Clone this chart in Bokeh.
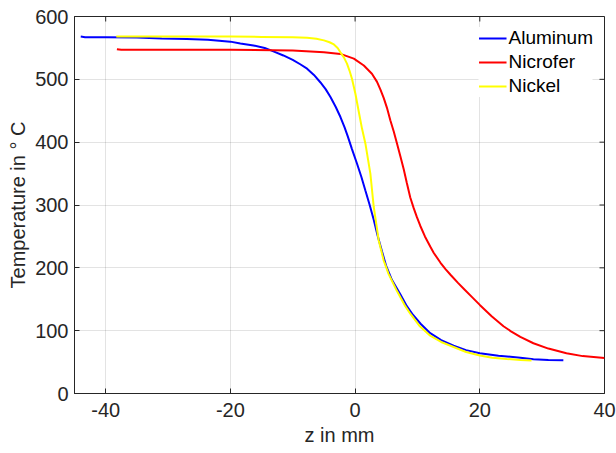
from bokeh.plotting import figure
from bokeh.models import Range1d, FixedTicker
from bokeh.embed import file_html
from bokeh.resources import INLINE

# ---- data ----
series_names = ["Aluminum", "Nicrofer", "Nickel"]
series_colors = ["#0000ff", "#ff0000", "#ffff00"]

z_aluminum = [-44.0, -43.3, -40, -35, -31, -27, -23.6, -20, -18.4, -16.3, -14.5, -13.0, -11.5,
              -10.0, -8.8, -7.7, -6.6, -5.55, -4.7, -3.95, -3.1, -2.35, -1.7, -1.2, -0.5, 0.3,
              1.0, 1.65, 2.34, 2.98, 3.6, 4.32, 4.95, 5.9, 7.25, 8.3, 9.3, 10.5, 12.05,
              13.8, 15.8, 17.8, 20.0, 23.0, 26.5, 28.6, 31.0, 33.4]
t_aluminum = [568, 567, 567, 566.5, 565, 564, 563, 560, 557, 554, 550, 544, 538,
              531, 524, 517, 507, 495, 484, 472, 456, 440, 424, 410, 389, 366,
              345, 323, 300, 277, 252, 226, 204, 181, 158, 139, 125, 111, 96,
              85, 76, 69, 64, 60, 57, 54.5, 53.5, 53]

z_nicrofer = [-38.2, -37.5, -30, -20, -10, -5, -2.35, -0.2, 1.4, 2.7, 3.52, 4.05, 4.6,
              5.1, 5.65, 6.2, 6.72, 7.25, 7.8, 8.3, 8.85, 9.4, 9.9, 10.45, 11.2, 12.05,
              12.6, 13.7, 14.5, 15.3, 16.5, 17.5, 18.8, 20.0, 21.9, 23.8, 25.0, 26.5,
              28.6, 31.0, 33.9, 36.5, 40.0]
t_nicrofer = [548, 547, 547, 547, 546, 543, 540.5, 533, 522, 509, 496, 484, 470,
              455, 435, 417, 398, 378, 357, 335, 312, 295, 281, 267, 250, 234,
              224, 208, 198, 189, 176, 166, 153, 141, 123, 107, 99, 90,
              80, 71.5, 64, 59.5, 56.5]

z_nickel = [-38.3, -30, -20, -15, -10, -7.7, -6.2, -5.0, -4.1, -3.4, -2.8, -2.35, -1.8,
            -1.3, -0.9, -0.5, 0.05, 0.6, 1.1, 1.65, 2.45, 2.98, 3.78, 4.58, 5.38, 6.72,
            8.05, 8.85, 10.3, 12.05, 13.8, 15.8, 17.8, 20.0, 22.0, 24.3, 26.5, 28.3]
t_nickel = [568, 568, 568, 567.5, 567, 566, 564.5, 562, 559, 555.5, 550, 543, 535,
            525, 514, 501, 477, 448, 422, 398, 350, 298, 244, 212, 190, 163,
            139, 127, 108, 92, 82, 74, 66, 60.5, 57, 55, 53.5, 52.5]

x_ticks = [-40, -20, 0, 20, 40]
y_ticks = [0, 100, 200, 300, 400, 500, 600]
x_label = "z in mm"
y_label = "Temperature in \u00b0 C"

FONT = "Liberation Sans"
AX = "#262626"
X0, X1, Y0, Y1 = -45, 40, 0, 600
FRAME_W, FRAME_H = 530, 377
TICK_PX = 5

p = figure(width=616, height=453, output_backend="svg", toolbar_location=None,
           x_range=Range1d(X0, X1), y_range=Range1d(Y0, Y1),
           min_border_left=74, min_border_right=12, min_border_top=16, min_border_bottom=60)
p.background_fill_color = "white"
p.border_fill_color = "white"
p.outline_line_color = AX
p.outline_line_width = 1

for ax, ticks in ((p.xaxis[0], x_ticks), (p.yaxis[0], y_ticks)):
    ax.ticker = FixedTicker(ticks=ticks)
    ax.minor_tick_line_color = None
    ax.major_tick_in = TICK_PX
    ax.major_tick_out = 0
    ax.axis_line_color = AX
    ax.major_tick_line_color = AX
    ax.major_label_text_font = FONT
    ax.major_label_text_font_size = "20px"
    ax.major_label_text_color = AX
    ax.axis_label_text_font = FONT
    ax.axis_label_text_font_size = "20px"
    ax.axis_label_text_font_style = "normal"
    ax.axis_label_text_color = AX
    ax.major_label_overrides = {t: str(t) for t in ticks}

p.xaxis[0].axis_label = x_label
p.yaxis[0].axis_label = y_label
p.xaxis[0].major_label_standoff = 9
p.xaxis[0].axis_label_standoff = 4
p.yaxis[0].major_label_standoff = 6
p.yaxis[0].axis_label_standoff = 3

p.xgrid.ticker = FixedTicker(ticks=x_ticks)
p.ygrid.ticker = FixedTicker(ticks=y_ticks)
for g in (p.xgrid, p.ygrid):
    g.grid_line_color = AX
    g.grid_line_alpha = 0.13
    g.grid_line_width = 1

zs = [z_aluminum, z_nicrofer, z_nickel]
ts = [t_aluminum, t_nicrofer, t_nickel]
for name, color, z, t in zip(series_names, series_colors, zs, ts):
    p.line(z, t, line_color=color, line_width=2, legend_label=name)

# inward ticks on the top and right edges of the box (derived from the tick lists)
dy = TICK_PX * (Y1 - Y0) / FRAME_H
dx = TICK_PX * (X1 - X0) / FRAME_W
p.segment(x0=x_ticks, x1=x_ticks, y0=[Y1] * len(x_ticks), y1=[Y1 - dy] * len(x_ticks),
          line_color=AX, line_width=1)
p.segment(x0=[X1] * len(y_ticks), x1=[X1 - dx] * len(y_ticks), y0=y_ticks, y1=y_ticks,
          line_color=AX, line_width=1)

lg = p.legend[0]
lg.location = "top_right"
lg.border_line_color = None
lg.background_fill_color = "white"
lg.background_fill_alpha = 1.0
lg.label_text_font = FONT
lg.label_text_font_size = "19px"
lg.label_text_color = "black"
lg.glyph_width = 28
lg.glyph_height = 20
lg.label_height = 20
lg.label_standoff = 2
lg.spacing = 2
lg.padding = 5
lg.margin = 11

open("out.html", "w").write(file_html(p, INLINE))
